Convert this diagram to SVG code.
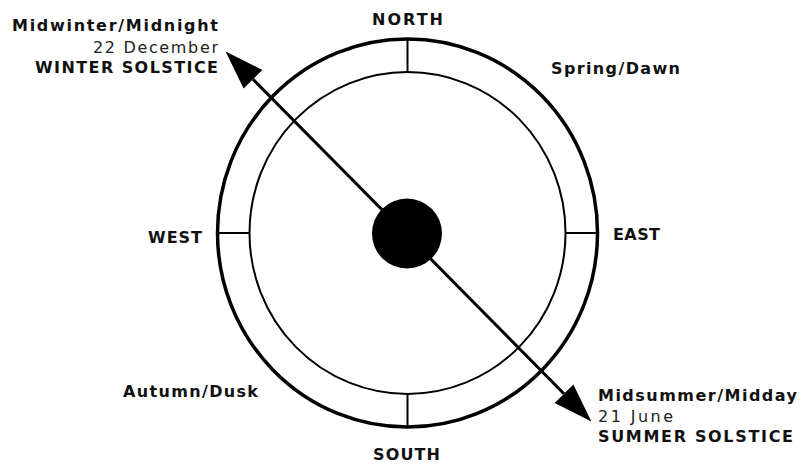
<svg xmlns="http://www.w3.org/2000/svg" width="806" height="466" viewBox="0 0 806 466">
  <style>
    .lbl { font-family: "DejaVu Sans", "Liberation Sans", sans-serif; font-size: 16px; font-weight: bold; fill: #111; }
    .reg { font-weight: normal; fill: #222; }
    .ring { fill: none; stroke: #000; }
    .tick { stroke: #000; stroke-width: 2; }
    .axis { stroke: #000; stroke-width: 3; fill: none; }
  </style>
  <defs>
    <marker id="head" markerUnits="userSpaceOnUse" markerWidth="40" markerHeight="30" viewBox="0 -13 38 26" refX="0" refY="0" orient="auto-start-reverse">
      <path d="M0,-12.5 L37,0 L0,12.5 Z" fill="#000"/>
    </marker>
  </defs>
  <rect width="806" height="466" fill="#fff"/>

  <g id="dial">
    <ellipse class="ring" cx="407.5" cy="233" rx="190" ry="194" stroke-width="3.5"/>
    <ellipse class="ring" cx="407.5" cy="233" rx="158" ry="161" stroke-width="2"/>
    <line class="tick" x1="407.5" y1="39" x2="407.5" y2="72"/>
    <line class="tick" x1="407.5" y1="394" x2="407.5" y2="427"/>
    <line class="tick" x1="218" y1="233" x2="249.5" y2="233"/>
    <line class="tick" x1="565.5" y1="233" x2="597" y2="233"/>
  </g>

  <g id="sun">
    <circle cx="407" cy="233.5" r="35" fill="#000"/>
  </g>

  <g id="connectors">
    <line class="axis" x1="253" y1="79.3" x2="564" y2="393.7" marker-start="url(#head)" marker-end="url(#head)"/>
  </g>

  <g id="north"><text class="lbl" x="372" y="25" textLength="71" lengthAdjust="spacing">NORTH</text></g>
  <g id="south"><text class="lbl" x="373" y="460" textLength="67" lengthAdjust="spacing">SOUTH</text></g>
  <g id="west"><text class="lbl" x="148" y="243" textLength="54" lengthAdjust="spacing">WEST</text></g>
  <g id="east"><text class="lbl" x="613" y="240" textLength="47" lengthAdjust="spacing">EAST</text></g>
  <g id="spring"><text class="lbl" x="551" y="74" textLength="129" lengthAdjust="spacing">Spring/Dawn</text></g>
  <g id="autumn"><text class="lbl" x="123" y="397" textLength="135" lengthAdjust="spacing">Autumn/Dusk</text></g>

  <g id="winter">
    <text class="lbl" x="12" y="31" textLength="206" lengthAdjust="spacing">Midwinter/Midnight</text>
    <text class="lbl reg" x="93" y="53" textLength="125" lengthAdjust="spacing">22 December</text>
    <text class="lbl" x="35" y="73" textLength="183" lengthAdjust="spacing">WINTER SOLSTICE</text>
  </g>

  <g id="summer">
    <text class="lbl" x="598" y="401" textLength="199" lengthAdjust="spacing">Midsummer/Midday</text>
    <text class="lbl reg" x="598" y="422" textLength="75" lengthAdjust="spacing">21 June</text>
    <text class="lbl" x="598" y="442" textLength="195" lengthAdjust="spacing">SUMMER SOLSTICE</text>
  </g>
</svg>
